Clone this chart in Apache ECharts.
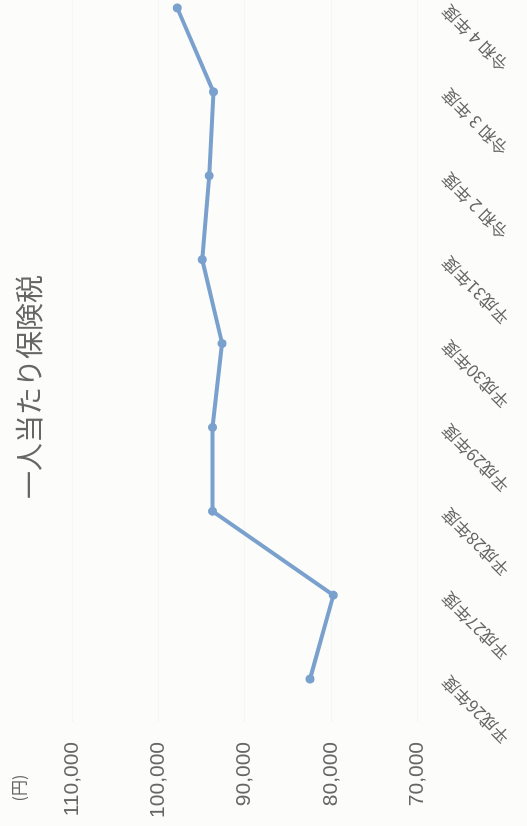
<!DOCTYPE html>
<html lang="ja">
<head>
<meta charset="utf-8">
<title>一人当たり保険税</title>
<script src="https://cdn.jsdelivr.net/npm/echarts@6/dist/echarts.min.js"></script>
<style>
  html, body { margin: 0; padding: 0; width: 527px; height: 826px; overflow: hidden; background: #fcfcfa; }
  /* The chart is laid out landscape and turned a quarter turn so it reads sideways on the page */
  #stage {
    position: absolute; left: 0; top: 0;
    width: 870px; height: 527px;
    transform-origin: 0 0;
    transform: translateY(826px) rotate(-90deg);
  }
</style>
</head>
<body>
<div id="stage"></div>
<script>
// Fiscal years (Heisei 26 – Reiwa 4)
const categories = ['平成26年度', '平成27年度', '平成28年度', '平成29年度', '平成30年度', '平成31年度', '令和 2 年度', '令和 3 年度', '令和 4 年度'];
// Insurance tax per person (yen)
const taxPerPerson = [82400, 79700, 93700, 93700, 92600, 94900, 94100, 93600, 97800];
// Value axis range and step (yen)
const axisMin = 70000;
const axisMax = 110000;
const axisStep = 10000;

const textColor = '#666666';
const lineColor = '#7aa1cd';
const cjkFont = '"Noto Sans CJK JP", "Noto Sans", sans-serif';
const numFont = '"Liberation Sans", "DejaVu Sans", sans-serif';

const chart = echarts.init(document.getElementById('stage'), null, { renderer: 'canvas' });

chart.setOption({
  animation: false,
  backgroundColor: 'transparent',
  graphic: [
    {
      type: 'text',
      x: 439, y: 29,
      style: {
        text: '一人当たり保険税',
        fill: textColor,
        font: '28px ' + cjkFont,
        align: 'center',
        verticalAlign: 'middle'
      }
    },
    {
      type: 'text',
      x: 38, y: 19,
      style: {
        text: '(円)',
        fill: textColor,
        font: '16px ' + cjkFont,
        align: 'center',
        verticalAlign: 'middle'
      }
    }
  ],
  grid: { left: 105, right: 10, top: 72, bottom: 110, containLabel: false },
  xAxis: {
    type: 'category',
    data: categories,
    boundaryGap: true,
    axisLine: { show: false },
    axisTick: { show: false },
    axisLabel: {
      rotate: 45,
      margin: 28,
      interval: 0,
      color: textColor,
      fontSize: 17,
      fontFamily: cjkFont
    }
  },
  yAxis: {
    type: 'value',
    min: axisMin,
    max: axisMax,
    interval: axisStep,
    axisLine: { show: false },
    axisTick: { show: false },
    splitLine: { show: true, lineStyle: { color: '#f0f0ee', width: 1, type: 'dotted' } },
    axisLabel: {
      margin: 21,
      color: textColor,
      fontSize: 21,
      fontFamily: numFont,
      formatter: v => String(v).replace(/\B(?=(\d{3})+(?!\d))/g, ',')
    }
  },
  series: [
    {
      type: 'line',
      data: taxPerPerson,
      symbol: 'circle',
      symbolSize: 9,
      lineStyle: { color: lineColor, width: 4 },
      itemStyle: { color: lineColor },
      label: { show: false }
    }
  ]
});
</script>
</body>
</html>
